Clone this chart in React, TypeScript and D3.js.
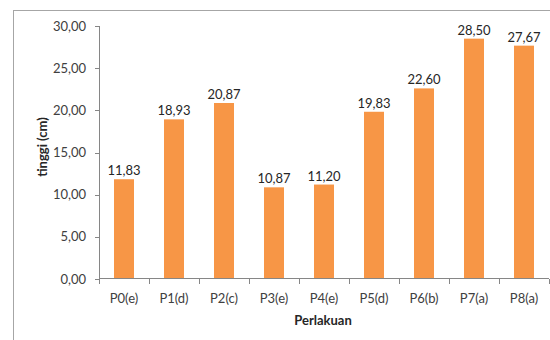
import React from "react";
import * as d3 from "d3";

const categories = ["P0(e)", "P1(d)", "P2(c)", "P3(e)", "P4(e)", "P5(d)", "P6(b)", "P7(a)", "P8(a)"];
const values = [11.83, 18.93, 20.87, 10.87, 11.2, 19.83, 22.6, 28.5, 27.67];
const yTicks = [0, 5, 10, 15, 20, 25, 30];

const W = 550;
const H = 340;
const left = 99;
const right = 549;
const top = 26;
const bottom = 279;

const fmt = (v: number) => v.toFixed(2).replace(".", ",");
const font = "Lato, 'Open Sans', sans-serif";

export default function App() {
  const x = d3.scaleBand<string>().domain(categories).range([left, right]).paddingInner(0.6).paddingOuter(0.3);
  const band = d3.scaleBand<string>().domain(categories).range([left, right]);
  const y = d3.scaleLinear().domain([0, 30]).range([bottom, top]);

  return (
    <svg
      width={W}
      height={H}
      style={{ position: "absolute", left: 0, top: 0, display: "block", background: "#fff" }}
      fontFamily={font}
    >
      <rect x={13.5} y={10.5} width={W + 10} height={H + 10} fill="#fff" stroke="#a6a6a6" strokeWidth={1} />

      {/* bars */}
      {categories.map((c, i) => (
        <rect key={c} x={x(c)} y={y(values[i])} width={x.bandwidth()} height={bottom - y(values[i])} fill="#F79646" />
      ))}

      {/* value labels */}
      {categories.map((c, i) => (
        <text
          key={"l" + c}
          x={(x(c) as number) + x.bandwidth() / 2}
          y={y(values[i]) - 4}
          textAnchor="middle"
          fontSize={13}
          fill="#262626"
        >
          {fmt(values[i])}
        </text>
      ))}

      {/* y axis */}
      <line x1={left + 0.5} x2={left + 0.5} y1={top} y2={bottom} stroke="#868686" />
      {yTicks.map((t) => (
        <g key={t}>
          <line x1={left - 4} x2={left} y1={Math.round(y(t)) + 0.5} y2={Math.round(y(t)) + 0.5} stroke="#868686" />
          <text x={86} y={y(t)} dy="0.35em" textAnchor="end" fontSize={13} fill="#404040">
            {fmt(t)}
          </text>
        </g>
      ))}

      {/* x axis */}
      <line x1={left} x2={right} y1={bottom - 0.5} y2={bottom - 0.5} stroke="#868686" />
      {[...categories.map((c) => band(c) as number), right].map((px, i) => (
        <line key={"t" + i} x1={Math.round(px) + 0.5} x2={Math.round(px) + 0.5} y1={bottom} y2={bottom + 5} stroke="#868686" />
      ))}
      {categories.map((c) => (
        <text
          key={"x" + c}
          x={(band(c) as number) + band.bandwidth() / 2}
          y={298}
          dy="0.35em"
          textAnchor="middle"
          fontSize={13}
          fill="#404040"
        >
          {c}
        </text>
      ))}

      {/* axis titles */}
      <text x={323} y={320} dy="0.35em" textAnchor="middle" fontSize={13} fontWeight="bold" fill="#262626">
        Perlakuan
      </text>
      <text
        transform={`translate(42,147) rotate(-90)`}
        dy="0.35em"
        textAnchor="middle"
        fontSize={13}
        fontWeight="bold"
        fill="#262626"
      >
        tinggi (cm)
      </text>
    </svg>
  );
}
